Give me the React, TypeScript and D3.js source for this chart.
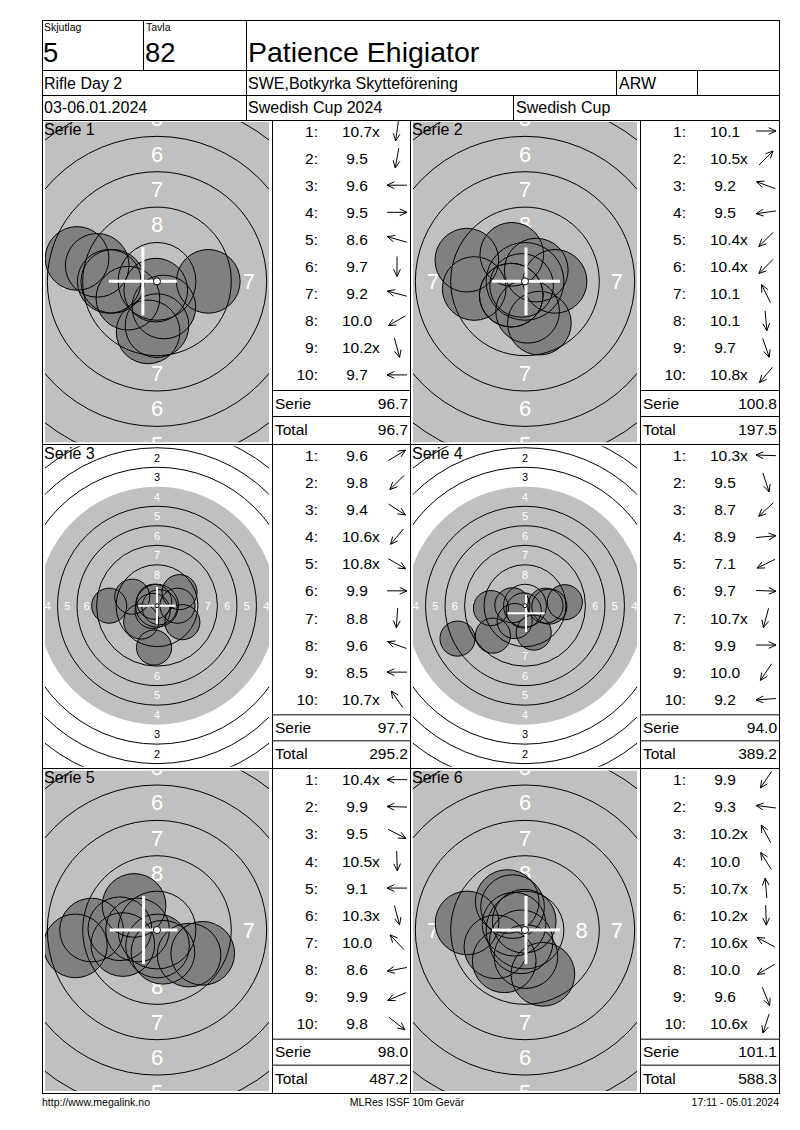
import React from 'react';
import * as d3 from 'd3';

const FONT = "'Liberation Sans', Arial, Helvetica, sans-serif";

// header texts
const SKJUTLAG_LABEL = 'Skjutlag';
const SKJUTLAG = '5';
const TAVLA_LABEL = 'Tavla';
const TAVLA = '82';
const NAME = 'Patience Ehigiator';
const EVENT = 'Rifle Day 2';
const CLUB = 'SWE,Botkyrka Skytteförening';
const CLASS_CODE = 'ARW';
const DATES = '03-06.01.2024';
const COMPETITION = 'Swedish Cup 2024';
const CUP = 'Swedish Cup';
const FOOTER_LEFT = 'http://www.megalink.no';
const FOOTER_MID = 'MLRes ISSF 10m Gevär';
const FOOTER_RIGHT = '17:11 - 05.01.2024';

// series data: scores as printed, shot direction in degrees (0 = right, 90 = up)
const SERIES = ['Serie 1', 'Serie 2', 'Serie 3', 'Serie 4', 'Serie 5', 'Serie 6'];

const SCORES_1 = ['10.7x', '9.5', '9.6', '9.5', '8.6', '9.7', '9.2', '10.0', '10.2x', '9.7'];
const DIRS_1 = [262, 260, 180, 0, 164, 270, 165, 210, 285, 180];
const SCORES_2 = ['10.1', '10.5x', '9.2', '9.5', '10.4x', '10.4x', '10.1', '10.1', '9.7', '10.8x'];
const DIRS_2 = [0, 45, 160, 188, 225, 225, 116, 275, 289, 230];
const SCORES_3 = ['9.6', '9.8', '9.4', '10.6x', '10.8x', '9.9', '8.8', '9.6', '8.5', '10.7x'];
const DIRS_3 = [31, 225, 327, 230, 330, 0, 266, 160, 180, 125];
const SCORES_4 = ['10.3x', '9.5', '8.7', '8.9', '7.1', '9.7', '10.7x', '9.9', '10.0', '9.2'];
const DIRS_4 = [178, 288, 223, 5, 206, 358, 255, 0, 236, 184];
const SCORES_5 = ['10.4x', '9.9', '9.5', '10.5x', '9.1', '10.3x', '10.0', '8.6', '9.9', '9.8'];
const DIRS_5 = [180, 178, 333, 272, 180, 285, 133, 191, 203, 322];
const SCORES_6 = ['9.9', '9.3', '10.2x', '10.0', '10.7x', '10.2x', '10.6x', '10.0', '9.6', '10.6x'];
const DIRS_6 = [236, 173, 118, 122, 95, 272, 152, 210, 292, 252];

const SERIE_SUMS = ['96.7', '100.8', '97.7', '94.0', '98.0', '101.1'];
const TOTALS = ['96.7', '197.5', '295.2', '389.2', '487.2', '588.3'];

// white cross position per series, mm from centre (x right, y up)
const CROSS_X = [-1.0, 0.07, 0, 0.13, -0.95, 0.07];
const CROSS_Y = [0, 0, 0, -0.98, 0, 0];

// whether the target is drawn enlarged
const ENLARGED = [true, true, false, false, true, true];

const ALL_SCORES = [SCORES_1, SCORES_2, SCORES_3, SCORES_4, SCORES_5, SCORES_6];
const ALL_DIRS = [DIRS_1, DIRS_2, DIRS_3, DIRS_4, DIRS_5, DIRS_6];

const RING_NUMBERS = [1, 2, 3, 4, 5, 6, 7, 8, 9];

// layout
const LEFT = 42;
const RIGHT = 779;
const TOP = 20;
const ROW1 = 70;
const ROW2 = 95;
const ROW3 = 120;
const BOTTOM = 1093;
const PANEL_H = (BOTTOM - ROW3) / 3;
const COLS = [42, 272, 410, 640, 779];

const GREY = '#c0c0c0';
const SHOT = '#808080';

// ISSF 10m rifle target geometry (mm)
const ringRadius = d3.scaleLinear().domain([9, 1]).range([2.75, 22.75]);
const scoreDistance = d3.scaleLinear().domain([10.95, 0.95]).range([0, 25]);
const PELLET_R = 2.25;
const TEN_DOT_R = 0.25;
const CROSS_HALF = 2.4;

interface TargetProps {
  id: string;
  x0: number; x1: number; y0: number; y1: number;
  label: string;
  scores: string[];
  dirs: number[];
  enlarged: boolean;
  crossX: number;
  crossY: number;
}

const Target: React.FC<TargetProps> = ({ id, x0, x1, y0, y1, label, scores, dirs, enlarged, crossX, crossY }) => {
  const ppm = enlarged ? 14.15 : 7.8;
  const cx = (x0 + x1) / 2;
  const cy = (y0 + y1) / 2 - 0.8;
  const x = d3.scaleLinear().domain([-1, 1]).range([cx - ppm, cx + ppm]);
  const y = d3.scaleLinear().domain([-1, 1]).range([cy + ppm, cy - ppm]);
  const r = d3.scaleLinear().domain([0, 1]).range([0, ppm]);

  const clip = { left: x0 + 3, right: x1 - 3, top: y0 + 2, bottom: y1 - 2 };

  const shots = scores.map((s, i) => {
    const d = scoreDistance(parseFloat(s));
    const a = (dirs[i] * Math.PI) / 180;
    return { x: d * Math.cos(a), y: d * Math.sin(a) };
  });

  const labelSize = enlarged ? 22 : 11;
  const lines = RING_NUMBERS.filter(n => n !== 4);

  // ring numbers, only those that reach into the visible box
  const labels = RING_NUMBERS.filter(n => n < 9).flatMap(n => {
    const lr = ringRadius(n) - 1.25;
    return [[0, lr], [0, -lr], [-lr, 0], [lr, 0]].map(([px, py]) => ({ n, px: x(px), py: y(py) }));
  }).filter(l => l.py > clip.top - labelSize * 0.45 && l.py < clip.bottom + labelSize * 0.45
    && l.px > clip.left - labelSize * 0.3 && l.px < clip.right + labelSize * 0.3);

  return (
    <g>
      <defs>
        <clipPath id={id}>
          <rect x={clip.left} y={clip.top} width={clip.right - clip.left} height={clip.bottom - clip.top} />
        </clipPath>
      </defs>
      <g clipPath={`url(#${id})`}>
        <circle cx={x(0)} cy={y(0)} r={r(ringRadius(4))} fill={GREY} />
        {labels.map((l, k) => (
          <text key={k} x={l.px} y={l.py} textAnchor="middle" dominantBaseline="central"
            fontFamily={FONT} fontSize={labelSize} fill={l.n <= 3 ? '#000' : '#fff'}>{l.n}</text>
        ))}
        {shots.map((s, i) => (
          <circle key={`f${i}`} cx={x(s.x)} cy={y(s.y)} r={r(PELLET_R)} fill={SHOT} />
        ))}
        {lines.map(n => (
          <circle key={`r${n}`} cx={x(0)} cy={y(0)} r={r(ringRadius(n))} fill="none" stroke="#000" strokeWidth={1} />
        ))}
        {shots.map((s, i) => (
          <circle key={`o${i}`} cx={x(s.x)} cy={y(s.y)} r={r(PELLET_R)} fill="none" stroke="#000" strokeWidth={1} />
        ))}
        <line x1={x(crossX - CROSS_HALF)} x2={x(crossX + CROSS_HALF)} y1={y(crossY)} y2={y(crossY)}
          stroke="#fff" strokeWidth={enlarged ? 3 : 2} />
        <line x1={x(crossX)} x2={x(crossX)} y1={y(crossY - CROSS_HALF)} y2={y(crossY + CROSS_HALF)}
          stroke="#fff" strokeWidth={enlarged ? 3 : 2} />
        <circle cx={x(0)} cy={y(0)} r={Math.max(r(TEN_DOT_R), 2)} fill="#fff" stroke="#000" strokeWidth={1} />
      </g>
      <text x={x0 + 2} y={y0 + 14.5} fontFamily={FONT} fontSize={16} fill="#000">{label}</text>
    </g>
  );
};

interface ListProps {
  x0: number; x1: number; y0: number;
  scores: string[];
  dirs: number[];
  serie: string;
  total: string;
}

const ScoreList: React.FC<ListProps> = ({ x0, x1, y0, scores, dirs, serie, total }) => {
  const rowY = d3.scaleLinear().domain([0, 9]).range([y0 + 11, y0 + 11 + 9 * 27.1]);
  const arrowX = x1 - 13;
  const serieLine = y0 + 270.5;
  const totalLine = y0 + 296.5;
  const fs = 15.5;
  return (
    <g fontFamily={FONT} fontSize={fs} fill="#000">
      {scores.map((s, i) => {
        const cyy = rowY(i);
        const inner = s.endsWith('x');
        const num = inner ? s.slice(0, -1) : s;
        const a = (dirs[i] * Math.PI) / 180;
        const ux = Math.cos(a);
        const uy = -Math.sin(a);
        const hx = arrowX + 10 * ux;
        const hy = cyy + 10 * uy;
        const tx = arrowX - 10 * ux;
        const ty = cyy - 10 * uy;
        const spread = (25 * Math.PI) / 180;
        const head = [spread, -spread].map(sp => {
          const ang = Math.atan2(uy, ux) + Math.PI + sp;
          return [hx + 8 * Math.cos(ang), hy + 8 * Math.sin(ang)];
        });
        return (
          <g key={i}>
            <text x={x0 + 46} y={cyy} dy="0.36em" textAnchor="end">{`${i + 1}:`}</text>
            <text x={x0 + 85} y={cyy} dy="0.36em" textAnchor="middle">{num}</text>
            {inner && <text x={x0 + 85 + 15} y={cyy} dy="0.36em">x</text>}
            <g stroke="#000" strokeWidth={1} fill="none">
              <line x1={tx} y1={ty} x2={hx} y2={hy} />
              <line x1={hx} y1={hy} x2={head[0][0]} y2={head[0][1]} />
              <line x1={hx} y1={hy} x2={head[1][0]} y2={head[1][1]} />
            </g>
          </g>
        );
      })}
      <line x1={x0} x2={x1} y1={serieLine} y2={serieLine} stroke="#000" />
      <line x1={x0} x2={x1} y1={totalLine} y2={totalLine} stroke="#000" />
      <text x={x0 + 3} y={y0 + 283} dy="0.36em">Serie</text>
      <text x={x1 - 2} y={y0 + 283} dy="0.36em" textAnchor="end">{serie}</text>
      <text x={x0 + 3} y={y0 + 309.5} dy="0.36em">Total</text>
      <text x={x1 - 2} y={y0 + 309.5} dy="0.36em" textAnchor="end">{total}</text>
    </g>
  );
};

export default function App() {
  const panels = SERIES.map((label, i) => {
    const row = Math.floor(i / 2);
    const col = i % 2;
    const y0 = ROW3 + row * PANEL_H;
    const y1 = y0 + PANEL_H;
    const tx0 = COLS[col * 2];
    const tx1 = COLS[col * 2 + 1];
    const lx1 = COLS[col * 2 + 2];
    return (
      <g key={label}>
        <Target id={`clip${i}`} x0={tx0} x1={tx1} y0={y0} y1={y1} label={label}
          scores={ALL_SCORES[i]} dirs={ALL_DIRS[i]} enlarged={ENLARGED[i]}
          crossX={CROSS_X[i]} crossY={CROSS_Y[i]} />
        <ScoreList x0={tx1} x1={lx1} y0={y0} scores={ALL_SCORES[i]} dirs={ALL_DIRS[i]}
          serie={SERIE_SUMS[i]} total={TOTALS[i]} />
      </g>
    );
  });

  const hLines = [ROW1, ROW2, ROW3, ROW3 + PANEL_H, ROW3 + 2 * PANEL_H];

  return (
    <svg width={800} height={1130} style={{ position: 'absolute', left: 0, top: 0 }}
      fontFamily={FONT}>
      <rect x={0} y={0} width={800} height={1130} fill="#fff" />
      {panels}
      <g stroke="#000" strokeWidth={1} fill="none" shapeRendering="crispEdges">
        <rect x={LEFT} y={TOP} width={RIGHT - LEFT} height={BOTTOM - TOP} />
        {hLines.map(v => <line key={v} x1={LEFT} x2={RIGHT} y1={v} y2={v} />)}
        <line x1={143.5} x2={143.5} y1={TOP} y2={ROW1} />
        <line x1={246} x2={246} y1={TOP} y2={ROW3} />
        <line x1={616} x2={616} y1={ROW1} y2={ROW2} />
        <line x1={697} x2={697} y1={ROW1} y2={ROW2} />
        <line x1={513} x2={513} y1={ROW2} y2={ROW3} />
        {COLS.slice(1, 4).map(c => <line key={c} x1={c} x2={c} y1={ROW3} y2={BOTTOM} />)}
      </g>
      <g fill="#000">
        <text x={44} y={31} fontSize={10.5}>{SKJUTLAG_LABEL}</text>
        <text x={146} y={31} fontSize={10.5}>{TAVLA_LABEL}</text>
        <text x={43} y={62} fontSize={27.5}>{SKJUTLAG}</text>
        <text x={145} y={62} fontSize={27.5}>{TAVLA}</text>
        <text x={248} y={62} fontSize={28.5}>{NAME}</text>
        <text x={44} y={89} fontSize={16}>{EVENT}</text>
        <text x={248} y={89} fontSize={16}>{CLUB}</text>
        <text x={619} y={89} fontSize={16}>{CLASS_CODE}</text>
        <text x={44} y={113} fontSize={16}>{DATES}</text>
        <text x={248} y={113} fontSize={16}>{COMPETITION}</text>
        <text x={516} y={113} fontSize={16}>{CUP}</text>
        <text x={42} y={1106} fontSize={10.5}>{FOOTER_LEFT}</text>
        <text x={407} y={1106} fontSize={10.5} textAnchor="middle">{FOOTER_MID}</text>
        <text x={779} y={1106} fontSize={10.5} textAnchor="end">{FOOTER_RIGHT}</text>
      </g>
    </svg>
  );
}
